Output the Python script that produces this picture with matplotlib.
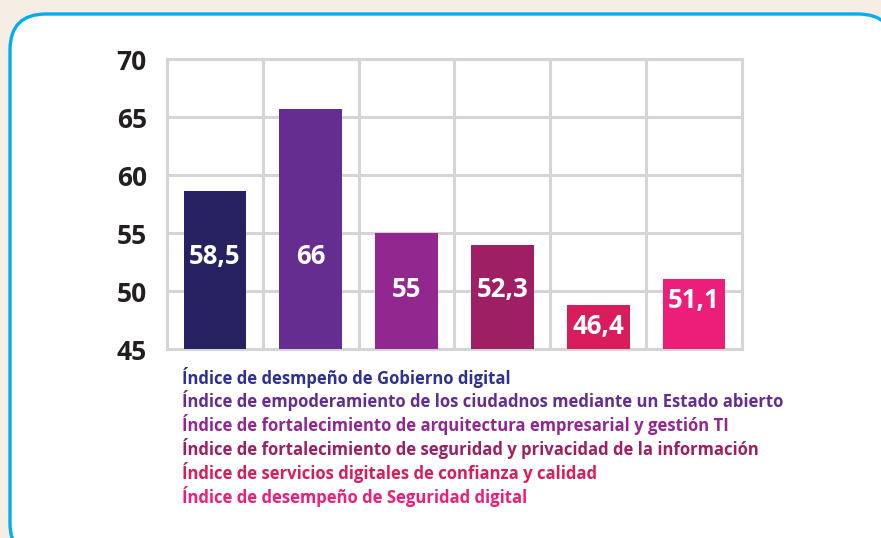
import matplotlib
matplotlib.use('agg')
import matplotlib.pyplot as plt
from matplotlib.patches import FancyBboxPatch
import numpy as np

# values
categories = ["Índice de desmpeño de Gobierno digital",
              "Índice de empoderamiento de los ciudadnos mediante un Estado abierto",
              "Índice de fortalecimiento de arquitectura empresarial y gestión TI",
              "Índice de fortalecimiento de seguridad y privacidad de la información",
              "Índice de servicios digitales de confianza y calidad",
              "Índice de desempeño de Seguridad digital"]
bar_heights = [58.6, 65.7, 55.0, 54.0, 48.8, 51.0]
value_labels = ["58,5", "66", "55", "52,3", "46,4", "51,1"]
yticks = [45, 50, 55, 60, 65, 70]

bar_colors = ["#262262", "#662d91", "#92278f", "#9e1f63", "#d91c5c", "#ed1e79"]
text_colors = ["#2e3192", "#662d91", "#92278f", "#9e1f63", "#d91c5c", "#ed1e79"]
label_y = [53.0, 53.0, 50.1, 50.1, 46.9, 49.2]

plt.rcParams['font.family'] = ['Open Sans', 'DejaVu Sans']
grid_c = "#d4d5d6"

fig = plt.figure(figsize=(8.81, 5.38), dpi=100)
fig.patch.set_facecolor("#f6eee5")

# background panel in pixel coords
bg = fig.add_axes([0, 0, 1, 1])
bg.set_xlim(0, 881)
bg.set_ylim(538, 0)
bg.axis('off')
bg.add_patch(FancyBboxPatch((10, 14), 884, 545, boxstyle="round,pad=0,rounding_size=36",
                            facecolor="white", edgecolor="#00aeef", linewidth=2.4))

ax = fig.add_axes([167/881, 189/538, 575/881, 290/538])
ax.set_facecolor("none")
x = np.arange(len(bar_heights))
ax.bar(x, np.array(bar_heights) - 45, bottom=45, width=0.655, color=bar_colors, zorder=3)
for xi, yl, lab in zip(x, label_y, value_labels):
    ax.text(xi, yl, lab, ha='center', va='center', color='white',
            fontsize=18.5, fontweight='bold', zorder=4)

ax.set_xlim(-0.5, len(x) - 0.5)
ax.set_ylim(45, 70)
ax.set_yticks(yticks)
ax.set_yticklabels([str(t) for t in yticks], fontsize=19, fontweight='bold', color="#231f20")
ax.set_xticks([])
ax.set_xticks(x[:-1] + 0.5, minor=True)
ax.tick_params(axis='y', length=0, pad=14.5)
ax.tick_params(axis='x', which='minor', length=0)
ax.grid(True, which='major', axis='y', color=grid_c, linewidth=2.2, zorder=1)
ax.grid(True, which='minor', axis='x', color=grid_c, linewidth=2.2, zorder=1)
for s in ax.spines.values():
    s.set_color(grid_c)
    s.set_linewidth(2.2)
    s.set_zorder(2)

for i, (txt, c) in enumerate(zip(categories, text_colors)):
    bg.text(182, 377 + i * 23.9, txt, color=c, fontsize=11.95, fontweight='bold',
            ha='left', va='center')

plt.savefig("out.png", dpi=100, facecolor=fig.get_facecolor())
